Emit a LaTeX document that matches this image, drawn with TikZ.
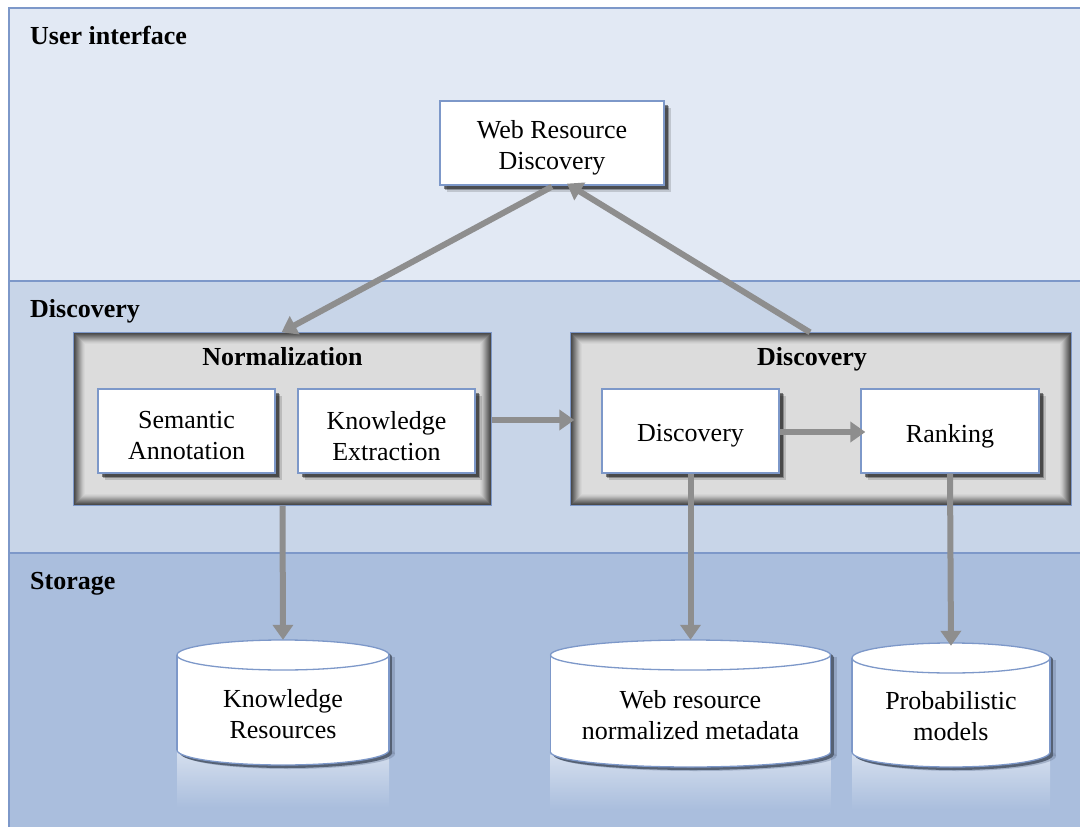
\documentclass[tikz,border=0pt]{standalone}
\usepackage{fontspec}
\setmainfont{Liberation Serif}
\usetikzlibrary{arrows.meta,shadows,calc}
\definecolor{bandA}{HTML}{E2E9F4}
\definecolor{bandB}{HTML}{C8D5E8}
\definecolor{bandC}{HTML}{AABEDD}
\definecolor{edgec}{HTML}{7D98C9}
\definecolor{grp}{HTML}{DCDCDC}
\definecolor{arrowc}{HTML}{8E8E8E}
\definecolor{cylshadow}{HTML}{7A8AA6}
\tikzset{
 txt/.style={font=\fontsize{26}{31}\selectfont},
 bandline/.style={draw=edgec, line width=1.3pt},
 heading/.style={anchor=base west, inner sep=0pt, font=\fontsize{26}{31}\selectfont\bfseries},
 box/.style={draw=edgec, line width=1.3pt, fill=white, inner sep=0pt,
   drop shadow={shadow xshift=6.5pt, shadow yshift=-6.5pt, opacity=.15, fill=black},
   drop shadow={shadow xshift=5pt, shadow yshift=-5pt, opacity=.28, fill=black},
   drop shadow={shadow xshift=3.5pt, shadow yshift=-3.5pt, opacity=.45, fill=black}},
 boxtext/.style={txt, align=center, inner sep=0pt},
 group/.style={draw=edgec, line width=1.3pt, fill=grp, inner sep=0pt},
 grouptitle/.style={anchor=base, inner sep=0pt, font=\fontsize{26}{31}\selectfont\bfseries},
 arr/.style={draw=arrowc, line width=6pt, -{Triangle[length=15pt,width=20pt]}},
 cyledge/.style={draw=edgec, line width=1.3pt},
 cylbody/.style={inner sep=0pt},
}
% name, cx, top y, bottom y, x radius, text
\newcommand\dbcyl[6]{%
  \pgfmathsetmacro\cL{#2-#5}\pgfmathsetmacro\cR{#2+#5}%
  \pgfmathsetmacro\cT{#3+15}\pgfmathsetmacro\cB{#4-15}%
  \pgfmathsetmacro\cM{(\cT+#4)/2}\pgfmathsetmacro\cH{#4-\cT}%
  \shade[top color=white!50!bandC, bottom color=bandC] (\cL,\cB+2) rectangle (\cR,#4+42);
  \fill[cylshadow, opacity=.5] (\cL+6,\cT+2) rectangle (\cR+6,\cB+4);
  \fill[cylshadow, opacity=.5] (#2+6,\cB+4) ellipse [x radius=#5, y radius=15];
  \fill[cylshadow!70!black] (\cL+3,\cT+2) rectangle (\cR+3,\cB+3);
  \fill[cylshadow!70!black] (#2+3,\cB+3) ellipse [x radius=#5, y radius=15];
  \fill[cylshadow!70!black] (#2+3,\cT+2) ellipse [x radius=#5, y radius=15];
  \filldraw[cyledge, fill=white] (#2,\cB) ellipse [x radius=#5, y radius=15];
  \fill[white] (\cL,\cT) rectangle (\cR,\cB);
  \draw[cyledge] (\cL,\cT) -- (\cL,\cB) (\cR,\cT) -- (\cR,\cB);
  \filldraw[cyledge, fill=white] (#2,\cT) ellipse [x radius=#5, y radius=15];
  \node[cylbody, minimum width=2*#5 pt, minimum height=\cH pt] (#1) at (#2,\cM) {};
  \node[boxtext] (#1t) at ([yshift=-4pt]#1.center) {#6};
}
\newcommand\innershade[1]{%
  \foreach \d/\c in {0.8/34,1.8/40,2.8/47,3.8/54,4.8/61,5.8/68,6.8/75,7.8/82,8.8/88,9.8/93,10.8/97}{
    \draw[line width=1.1pt, grp!\c!black] ($(#1.north west)+(\d,\d)$) rectangle ($(#1.south east)+(-\d,-\d)$);
  }
  \draw[draw=edgec, line width=1.3pt] (#1.north west) rectangle (#1.south east);
}
\begin{document}
\begin{tikzpicture}[x=1pt,y=-1pt]
\useasboundingbox (0,0) rectangle (1080,827);
\fill[white] (0,0) rectangle (1080,827);
% bands
\fill[bandA] (9,8) rectangle (1082,281);
\fill[bandB] (9,281) rectangle (1082,553);
\fill[bandC] (9,553) rectangle (1082,830);
\draw[bandline] (1082,8) -- (9,8) -- (9,830);
\draw[bandline] (9,281) -- (1082,281);
\draw[bandline] (9,553) -- (1082,553);
\node[heading] (hui) at (30,44) {User interface};
\node[heading] (hdisc) at (30,317) {Discovery};
\node[heading] (hsto) at (30,589) {Storage};
% user interface
\node[box, minimum width=224pt, minimum height=84pt] (wrd) at (552,143) {};
\node[boxtext] (wrdt) at ([yshift=-5pt]wrd.center) {Web Resource\\Discovery};
% normalization group
\node[group, minimum width=417pt, minimum height=172pt] (norm) at (282.5,419) {};
\innershade{norm}
\node[grouptitle] (normt) at (282.5,365) {Normalization};
\node[box, minimum width=177pt, minimum height=84pt] (sa) at (186.5,431) {};
\node[boxtext] (sat) at ([yshift=-5pt]sa.center) {Semantic\\Annotation};
\node[box, minimum width=177pt, minimum height=84pt] (ke) at (386.5,431) {};
\node[boxtext] (ket) at ([yshift=-5pt]ke.center) {Knowledge\\Extraction};
% discovery group
\node[group, minimum width=500pt, minimum height=172pt] (disc) at (821,419) {};
\innershade{disc}
\node[grouptitle] (disct) at (812,365) {Discovery};
\node[box, minimum width=177pt, minimum height=84pt] (din) at (690.5,431) {};
\node[boxtext] (dint) at ([yshift=-5pt]din.center) {Discovery};
\node[box, minimum width=178pt, minimum height=84pt] (rank) at (950,431) {};
\node[boxtext] (rankt) at ([yshift=-5pt]rank.center) {Ranking};
% storage
\dbcyl{kr}{283}{640}{765}{106}{Knowledge\\Resources}
\dbcyl{wrm}{690.5}{640}{767}{140}{Web resource\\normalized metadata}
\dbcyl{pm}{951}{643}{767}{99}{Probabilistic\\models}
% connectors
\draw[arr] ([yshift=-1pt]wrd.south) -- ([xshift=-1pt]norm.north);
\draw[arr] ([xshift=-11pt]disc.north) -- ([xshift=15pt,yshift=2pt]wrd.south);
\draw[arr] ([yshift=-1pt]norm.east) -- ([xshift=4pt,yshift=-1pt]disc.west);
\draw[arr] ([yshift=-1pt]din.east) -- ([xshift=5pt,yshift=-1pt]rank.west);
\draw[arr] (norm.south) -- ([yshift=15pt]kr.north);
\draw[arr] (din.south) -- ([yshift=15pt]wrm.north);
\draw[arr] (rank.south) -- ([yshift=12pt]pm.north);
\end{tikzpicture}
\end{document}
